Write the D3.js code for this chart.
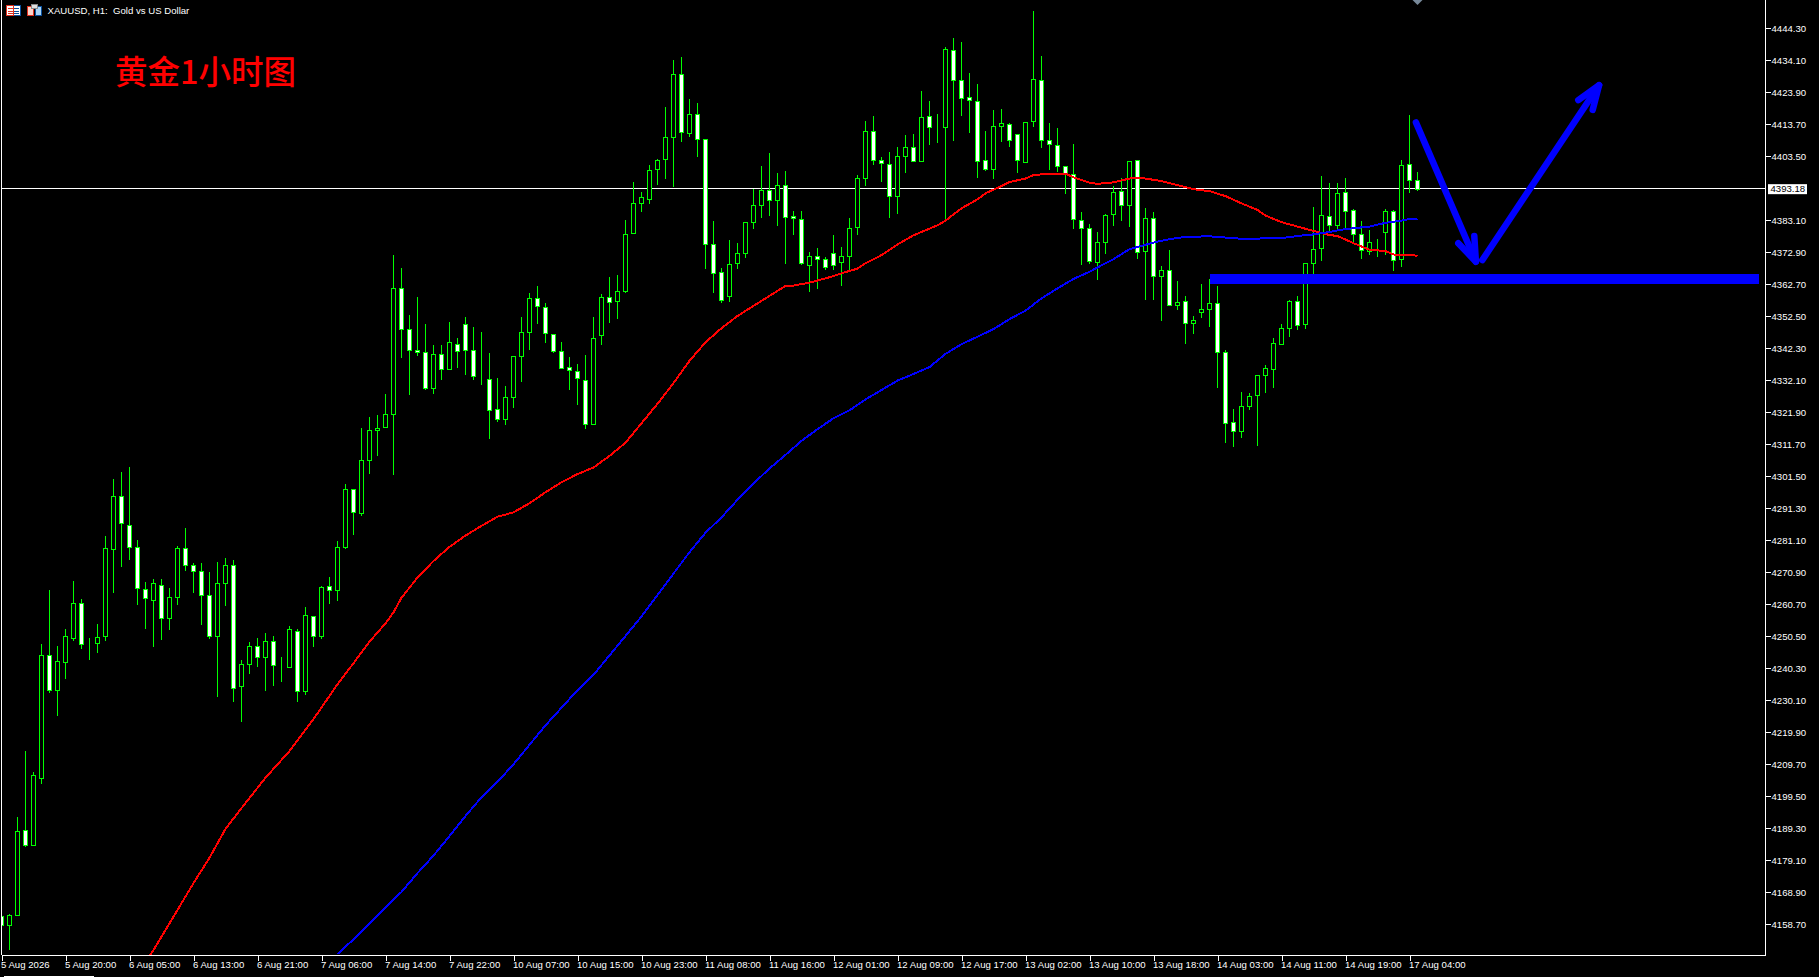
<!DOCTYPE html>
<html>
<head>
<meta charset="utf-8">
<title>XAUUSD H1</title>
<script src="https://cdn.jsdelivr.net/npm/d3@7"></script>
<style>
    html, body { margin: 0; padding: 0; background: #000; overflow: hidden; }
    svg { display: block; }
    .axis text { font-family: "Liberation Sans", sans-serif; font-size: 9.6px; fill: #fff; }
    .axis line, .axis path { stroke: #fff; shape-rendering: crispEdges; }
</style>
</head>
<body>
<div id="chart"></div>
<script>
    "use strict";
    //====================================
    //chart data, one entry per H1 bar
    var opens = [4161.3,4158.4,4161.6,4188.9,4183.9,4205.2,4244.4,4233.3,4242.4,4249.8,4261.0,4247.3,4248.2,4250.5,4278.2,4295.1,4285.9,4278.9,4265.7,4262.2,
        4267.0,4256.2,4262.9,4278.5,4273.1,4271.2,4263.8,4250.5,4267.4,4273.1,4234.6,4241.6,4247.3,4243.8,4248.9,4240.7,4240.6,4252.1,4233.0,4256.9,
        4250.5,4266.4,4265.1,4278.9,4297.3,4289.9,4306.7,4316.2,4317.1,4321.3,4361.4,4348.3,4341.7,4341.0,4329.5,4340.4,4335.6,4343.6,4350.0,4341.7,
        4332.6,4332.4,4322.8,4319.7,4326.9,4339.7,4347.4,4358.2,4355.4,4346.8,4341.3,4336.2,4335.0,4332.1,4318.3,4346.4,4358.5,4357.3,4360.5,4378.9,
        4388.5,4389.8,4399.3,4402.5,4409.5,4429.6,4410.8,4416.9,4408.9,4375.4,4366.5,4358.9,4369.4,4372.6,4382.5,4387.9,4392.6,4389.5,4394.2,4384.4,
        4383.4,4369.0,4371.6,4370.7,4372.6,4369.7,4371.6,4380.9,4396.5,4411.5,4402.2,4400.9,4391.0,4403.5,4406.4,4401.9,4416.2,4412.9,4412.7,4437.3,
        4427.7,4422.3,4421.0,4402.2,4399.3,4413.0,4413.7,4410.5,4401.6,4414.6,4427.7,4408.6,4407.0,4400.3,4397.7,4383.1,4380.8,4369.7,4376.1,4385.0,
        4392.3,4387.9,4402.2,4373.2,4383.7,4365.2,4367.1,4356.0,4357.3,4350.3,4353.8,4354.7,4356.6,4341.0,4318.7,4315.8,4323.8,4327.3,4333.7,4335.6,
        4343.6,4348.7,4357.3,4349.9,4369.4,4374.2,4384.4,4381.5,4392.0,4386.3,4378.6,4373.2,4376.1,4379.3,4386.0,4370.7,4400.9,4395.8];
    var highs = [4161.5,4161.9,4192.8,4213.9,4207.1,4248.0,4265.2,4247.4,4252.7,4268.1,4262.3,4249.9,4254.4,4282.5,4300.6,4302.9,4304.5,4281.1,4267.7,4268.8,
        4268.8,4265.9,4279.3,4285.0,4273.7,4273.7,4271.0,4274.2,4275.5,4274.8,4243.0,4248.6,4249.9,4251.6,4250.6,4243.9,4253.8,4252.7,4259.8,4256.9,
        4266.5,4269.4,4280.9,4299.0,4297.5,4316.9,4320.4,4321.0,4327.6,4371.9,4367.8,4352.8,4358.5,4349.9,4343.2,4343.2,4350.6,4345.5,4352.2,4349.0,
        4347.4,4340.7,4332.7,4330.2,4339.7,4352.2,4359.8,4362.0,4356.6,4346.8,4344.2,4339.4,4337.2,4340.1,4352.2,4359.5,4364.9,4365.6,4383.1,4395.2,
        4392.0,4400.6,4402.5,4419.1,4434.1,4435.0,4421.7,4420.4,4408.9,4382.8,4367.8,4376.7,4375.8,4382.5,4393.1,4400.4,4404.5,4398.2,4398.8,4386.1,
        4386.1,4372.9,4374.3,4371.3,4378.4,4374.6,4383.7,4397.4,4414.7,4416.3,4403.2,4404.8,4406.5,4410.3,4410.6,4424.3,4421.1,4417.0,4438.3,4441.2,
        4439.9,4429.9,4426.5,4411.6,4418.2,4418.6,4414.0,4410.5,4414.3,4449.8,4435.5,4414.0,4412.5,4400.3,4407.4,4385.6,4381.9,4379.3,4385.0,4393.9,
        4396.5,4401.9,4402.2,4386.9,4385.7,4368.4,4373.6,4363.6,4358.9,4352.5,4362.7,4364.4,4362.2,4341.8,4322.9,4328.3,4327.9,4333.7,4337.0,4345.6,
        4350.0,4357.7,4358.9,4369.4,4387.3,4397.1,4394.9,4394.9,4396.5,4386.6,4382.8,4380.0,4377.0,4386.6,4386.3,4402.2,4416.7,4398.4];
    var lows = [4158.2,4150.5,4161.2,4183.4,4183.9,4203.5,4232.5,4225.1,4236.9,4249.0,4246.4,4242.9,4245.2,4249.0,4264.3,4272.6,4274.8,4260.5,4252.8,4247.1,
        4249.3,4252.5,4260.5,4271.3,4264.3,4254.1,4249.6,4231.2,4260.2,4229.6,4223.2,4238.5,4240.7,4233.1,4234.7,4235.9,4240.6,4229.6,4231.8,4247.2,
        4249.6,4260.8,4261.7,4278.3,4282.8,4288.8,4302.3,4308.1,4317.1,4301.8,4339.2,4327.4,4339.8,4329.0,4327.7,4332.2,4335.6,4336.0,4333.8,4332.2,
        4330.6,4313.4,4318.8,4317.9,4323.3,4331.6,4341.8,4350.0,4343.9,4340.9,4335.6,4329.0,4324.1,4316.6,4318.0,4343.4,4350.3,4351.6,4360.0,4378.9,
        4385.8,4388.3,4394.3,4396.3,4393.8,4408.1,4409.7,4403.3,4367.6,4359.8,4356.7,4357.1,4367.6,4371.2,4380.3,4383.8,4384.5,4381.3,4369.2,4378.4,
        4369.0,4360.2,4361.2,4367.1,4367.3,4362.2,4367.3,4378.4,4394.0,4400.7,4395.3,4383.8,4385.1,4398.2,4401.9,4401.9,4407.1,4407.7,4382.5,4408.4,
        4416.3,4410.9,4396.6,4398.7,4396.3,4408.1,4406.5,4398.2,4401.6,4412.8,4406.1,4399.1,4398.5,4391.5,4380.3,4368.8,4369.2,4364.1,4372.3,4381.3,
        4382.9,4380.9,4370.8,4357.7,4357.7,4351.0,4356.0,4354.5,4343.7,4346.9,4352.0,4349.1,4329.6,4312.1,4310.8,4313.7,4322.6,4311.2,4327.9,4329.6,
        4345.9,4345.9,4348.1,4348.5,4366.0,4370.1,4378.9,4380.0,4380.0,4375.8,4370.8,4372.0,4371.4,4372.0,4366.8,4368.2,4391.8,4392.4];
    var closes = [4158.4,4161.6,4188.5,4183.9,4206.2,4244.4,4233.3,4242.5,4250.5,4261.0,4247.9,4247.3,4250.2,4278.5,4295.1,4286.5,4278.9,4265.8,4262.6,4267.4,
        4256.2,4262.9,4278.5,4273.1,4271.2,4263.6,4250.5,4267.4,4273.1,4233.9,4241.6,4247.3,4243.8,4248.9,4241.2,4240.7,4252.7,4233.0,4257.2,4250.5,
        4266.1,4265.1,4278.9,4297.3,4290.0,4306.7,4316.2,4317.0,4321.3,4361.4,4348.3,4341.7,4341.0,4329.5,4340.4,4335.6,4344.2,4341.3,4341.7,4333.4,
        4332.6,4322.5,4319.7,4326.7,4339.7,4347.4,4358.2,4355.7,4347.1,4341.3,4335.9,4335.3,4332.7,4318.1,4345.5,4358.5,4356.9,4360.5,4378.6,4388.5,
        4390.4,4399.0,4402.2,4409.5,4429.6,4411.1,4416.9,4408.9,4375.4,4366.2,4357.6,4369.1,4372.6,4382.5,4387.9,4392.6,4389.5,4394.2,4384.0,4383.7,
        4369.4,4371.6,4370.7,4368.1,4368.7,4371.6,4380.5,4396.5,4411.5,4402.2,4401.3,4391.0,4403.5,4406.4,4401.9,4415.9,4412.7,4412.9,4437.6,4427.7,
        4422.0,4421.3,4401.9,4399.3,4413.0,4414.0,4408.6,4402.2,4414.3,4428.0,4408.6,4407.3,4400.3,4398.1,4383.4,4380.8,4370.0,4376.1,4384.7,4392.0,
        4387.9,4401.9,4372.9,4383.7,4365.2,4367.1,4356.0,4356.9,4350.3,4351.2,4354.7,4356.6,4341.0,4318.4,4315.8,4323.8,4327.0,4333.7,4335.9,4343.9,
        4348.7,4357.3,4349.6,4369.4,4373.8,4384.7,4381.5,4391.7,4386.0,4378.6,4373.5,4376.1,4376.1,4386.0,4370.3,4400.6,4395.8,4393.18];

    //moving averages: [bar index, price]
    var redMa = [[18,4146.5],[19,4150.5],[21,4159.0],[24,4171.8],[26,4179.9],[28,4189.1],[30,4195.7],[33,4205.4],[36,4213.9],[39,4224.1],[42,4235.2],
        [44,4241.9],[46,4248.8],[48,4254.6],[49,4258.1],[50,4262.8],[52,4269.2],[54,4274.5],[56,4279.0],[58,4282.6],[60,4285.7],[62,4288.6],[64,4290.0],
        [66,4292.9],[68,4296.4],[70,4299.6],[72,4302.2],[74,4304.3],[76,4308.0],[78,4312.2],[80,4318.4],[82,4324.6],[84,4331.2],[86,4338.3],[88,4344.2],
        [90,4348.7],[92,4352.6],[93,4354.2],[94,4355.8],[96,4359.0],[98,4362.2],[99,4362.3],[101,4363.2],[104,4365.3],[105,4366.2],[107,4367.7],[108,4369.4],
        [110,4372.0],[112,4375.4],[114,4378.3],[117,4381.5],[118,4383.0],[120,4386.9],[122,4389.8],[123,4391.7],[125,4394.0],[126,4395.3],[128,4396.4],
        [129,4397.5],[131,4398.0],[133,4398.0],[134,4396.8],[136,4395.1],[137,4394.7],[139,4395.2],[141,4396.4],[142,4396.7],[143,4396.4],[145,4395.6],
        [147,4394.3],[149,4393.0],[151,4392.4],[153,4390.8],[155,4388.5],[157,4386.4],[158,4384.6],[160,4382.5],[162,4381.1],[164,4379.7],[166,4378.4],
        [167,4378.1],[169,4375.8],[171,4373.7],[173,4373.3],[174,4372.2],[176,4372.0],[177,4371.8]];
    var blueMa = [[42,4149.2],[44,4153.9],[46,4158.9],[48,4164.1],[50,4169.0],[52,4175.0],[54,4180.6],[56,4186.8],[58,4193.2],[60,4199.2],[62,4204.1],
        [64,4209.7],[66,4215.9],[68,4222.1],[70,4227.7],[72,4233.3],[74,4238.2],[76,4244.4],[78,4250.6],[80,4256.8],[82,4263.6],[84,4270.5],[86,4277.3],
        [88,4283.5],[90,4288.4],[92,4294.0],[94,4299.2],[96,4304.0],[98,4308.3],[100,4312.8],[102,4316.5],[104,4320.0],[106,4322.5],[108,4326.0],[110,4329.0],
        [112,4332.0],[114,4334.1],[116,4336.3],[118,4340.5],[120,4343.6],[122,4346.0],[124,4348.4],[126,4351.6],[128,4354.3],[130,4358.2],[132,4361.4],
        [134,4364.4],[136,4366.7],[138,4369.4],[139,4370.7],[141,4373.9],[142,4374.6],[144,4376.0],[146,4377.1],[148,4377.8],[151,4378.0],[153,4377.6],
        [155,4377.2],[160,4377.4],[162,4378.1],[164,4378.6],[166,4379.4],[168,4380.3],[171,4381.1],[173,4382.3],[175,4383.0],[176,4383.5],[177,4383.6]];

    var priceTicks = [4444.30,4434.10,4423.90,4413.70,4403.50,4383.10,4372.90,4362.70,4352.50,4342.30,4332.10,4321.90,4311.70,4301.50,4291.30,4281.10,
        4270.90,4260.70,4250.50,4240.30,4230.10,4219.90,4209.70,4199.50,4189.30,4179.10,4168.90,4158.70];
    var timeLabels = ["5 Aug 2026","5 Aug 20:00","6 Aug 05:00","6 Aug 13:00","6 Aug 21:00","7 Aug 06:00","7 Aug 14:00","7 Aug 22:00","10 Aug 07:00",
        "10 Aug 15:00","10 Aug 23:00","11 Aug 08:00","11 Aug 16:00","12 Aug 01:00","12 Aug 09:00","12 Aug 17:00","13 Aug 02:00","13 Aug 10:00",
        "13 Aug 18:00","14 Aug 03:00","14 Aug 11:00","14 Aug 19:00","17 Aug 04:00"];
    var lastPrice = 4393.18;

    //hand drawn objects on the chart: [bar index, price]
    var supportLine = [[151.1,4364.4],[219.7,4364.4]];
    var arrowDown = [[176.8,4414.3],[184.3,4369.9]];
    var arrowDownHead = [[182.1,4375.8],[184.3,4369.9],[184.1,4378.1]];
    var arrowUp = [[185.1,4370.4],[199.7,4426.2]];
    var arrowUpHead = [[197.1,4421.4],[199.7,4426.2],[198.9,4418.3]];

    //====================================
    var width = 1819, height = 977, plotRight = 1765.5, plotBottom = 955;

    var x = d3.scaleLinear().domain([0, 177]).range([1.5, 1417.5]);
    var y = d3.scaleLinear().domain([4148.9, 4453.32]).range([plotBottom, 0]);
    var snap = function(v){ return Math.round(v) + 0.5; };

    var svg = d3.select("#chart").append("svg")
        .attr("width", width)
        .attr("height", height)
        .style("background", "#000");

    svg.append("clipPath").attr("id", "plotClip").append("rect")
        .attr("x", 2).attr("y", 0).attr("width", plotRight - 2).attr("height", plotBottom);

    //axes
    var priceAxis = d3.axisRight(y).tickValues(priceTicks).tickSize(5).tickPadding(1)
        .tickFormat(function(d){ return d.toFixed(2); });
    svg.append("g").attr("class", "axis")
        .attr("transform", "translate(" + plotRight + ",0)")
        .call(priceAxis)
        .call(function(g){ g.select(".domain").attr("d", "M0,0V" + (plotBottom + 0.5)); });

    var timeIdx = timeLabels.map(function(d, i){ return i * 8; });
    var timeAxis = d3.axisBottom(x).tickValues(timeIdx).tickSize(5).tickPadding(1)
        .tickFormat(function(d){ return timeLabels[d / 8]; });
    svg.append("g").attr("class", "axis")
        .attr("transform", "translate(0," + (plotBottom + 0.5) + ")")
        .call(timeAxis)
        .call(function(g){
            g.select(".domain").attr("d", "M1.5,0H" + plotRight);
            g.selectAll("text").attr("text-anchor", "start").attr("x", -1);
        });

    //left border and the small strip at the bottom
    svg.append("line").attr("x1", 1.5).attr("x2", 1.5).attr("y1", 0).attr("y2", plotBottom)
        .attr("stroke", "#fff").attr("shape-rendering", "crispEdges");
    svg.append("line").attr("x1", 4).attr("x2", 94).attr("y1", 976.5).attr("y2", 976.5)
        .attr("stroke", "#fff").attr("shape-rendering", "crispEdges");

    //current price line and label
    svg.append("line")
        .attr("x1", 2).attr("x2", plotRight)
        .attr("y1", snap(y(lastPrice) - 0.5)).attr("y2", snap(y(lastPrice) - 0.5))
        .attr("stroke", "#fff").attr("shape-rendering", "crispEdges");
    svg.append("rect").attr("x", 1768).attr("y", y(lastPrice) - 4.5).attr("width", 39).attr("height", 10).attr("fill", "#fff");
    svg.append("text").attr("x", 1770.5).attr("y", y(lastPrice) + 3.8)
        .attr("font-family", "Liberation Sans, sans-serif").attr("font-size", 9.6).attr("fill", "#000")
        .text(lastPrice.toFixed(2));

    //candles
    var bars = opens.map(function(o, i){
        return {i: i, open: o, high: highs[i], low: lows[i], close: closes[i]};
    });
    var candles = svg.append("g").attr("clip-path", "url(#plotClip)").attr("shape-rendering", "crispEdges")
        .selectAll("g").data(bars).enter().append("g");
    candles.append("line")
        .attr("x1", function(d){ return x(d.i); })
        .attr("x2", function(d){ return x(d.i); })
        .attr("y1", function(d){ return y(d.high); })
        .attr("y2", function(d){ return y(d.low); })
        .attr("stroke", "#00ff00");
    candles.append("rect")
        .attr("x", function(d){ return x(d.i) - 2; })
        .attr("width", 4)
        .attr("y", function(d){ return snap(y(Math.max(d.open, d.close))); })
        .attr("height", function(d){ return Math.max(0, snap(y(Math.min(d.open, d.close))) - snap(y(Math.max(d.open, d.close)))); })
        .attr("fill", function(d){ return d.close < d.open ? "#fff" : "#000"; })
        .attr("stroke", "#00ff00");

    //moving averages
    var line = d3.line().x(function(d){ return x(d[0]); }).y(function(d){ return y(d[1]); });
    var maGroup = svg.append("g").attr("clip-path", "url(#plotClip)").attr("shape-rendering", "crispEdges");
    maGroup.append("path").attr("d", line(redMa)).attr("fill", "none").attr("stroke", "#ff0000").attr("stroke-width", 2);
    maGroup.append("path").attr("d", line(blueMa)).attr("fill", "none").attr("stroke", "#0000ff").attr("stroke-width", 2);

    //hand drawn line and arrows
    var drawn = svg.append("g").attr("fill", "none").attr("stroke", "#0000ff");
    drawn.append("path").attr("d", line(supportLine)).attr("stroke-width", 10).attr("shape-rendering", "crispEdges");
    [arrowDown, arrowDownHead, arrowUp, arrowUpHead].forEach(function(pts){
        drawn.append("path").attr("d", line(pts))
            .attr("stroke-width", 6.5)
            .attr("stroke-linecap", "round")
            .attr("stroke-linejoin", "round");
    });

    //grey marker on the top edge, above the last bar
    svg.append("path")
        .attr("transform", "translate(" + x(177) + ",0)")
        .attr("d", d3.line()([[-5, 0], [5, 0], [0, 5]]) + "Z")
        .attr("fill", "#778899");

    //chart header: the two small icons and the symbol text
    var icons = svg.append("g").attr("shape-rendering", "crispEdges");
    icons.append("rect").attr("x", 6.5).attr("y", 5.5).attr("width", 14).attr("height", 10).attr("fill", "#fff").attr("stroke", "#0a4f9c");
    icons.append("rect").attr("x", 6.5).attr("y", 5.5).attr("width", 7).attr("height", 10).attr("fill", "#fff").attr("stroke", "#e0301e");
    [8, 10.5, 13].forEach(function(ly){
        icons.append("rect").attr("x", 8).attr("y", ly).attr("width", 5).attr("height", 1).attr("fill", "#e0301e");
        icons.append("rect").attr("x", 14).attr("y", ly).attr("width", 5).attr("height", 1).attr("fill", "#0a4f9c");
    });
    icons.append("rect").attr("x", 27.5).attr("y", 6.5).attr("width", 6).attr("height", 9).attr("fill", "#fcd5cc").attr("stroke", "#e0301e");
    icons.append("rect").attr("x", 35.5).attr("y", 6.5).attr("width", 6).attr("height", 9).attr("fill", "#a9d4f5").attr("stroke", "#0a4f9c");
    icons.append("rect").attr("x", 31.5).attr("y", 4.5).attr("width", 6).attr("height", 4).attr("fill", "#ddd").attr("stroke", "#888");

    svg.append("text").attr("x", 47.5).attr("y", 14)
        .attr("font-family", "Liberation Sans, sans-serif").attr("font-size", 9.6).attr("fill", "#fff")
        .attr("xml:space", "preserve")
        .text("XAUUSD, H1:  Gold vs US Dollar");

    //red chart title
    svg.append("text").attr("x", 115).attr("y", 84)
        .attr("font-family", "Noto Sans CJK SC, sans-serif").attr("font-size", 32.5).attr("font-weight", 500).attr("fill", "#ff0000")
        .text("黄金1小时图");
</script>
</body>
</html>
